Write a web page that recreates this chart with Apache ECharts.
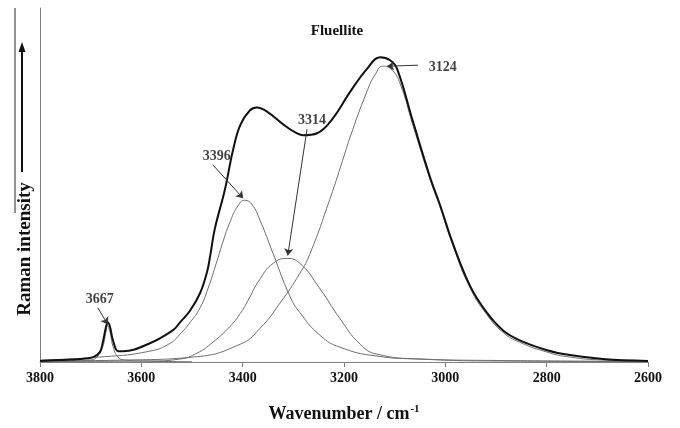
<!DOCTYPE html>
<html>
<head>
<meta charset="utf-8">
<script src="https://cdn.jsdelivr.net/npm/echarts@6/dist/echarts.min.js"></script>
<style>
  html, body { margin: 0; padding: 0; background: #fff; }
  #chart { width: 680px; height: 428px; }
</style>
</head>
<body>
<div id="chart"></div>
<script>
// intensity in arbitrary units
const totalWn = [3800, 3761, 3721, 3695, 3682, 3676, 3670, 3666, 3662, 3656, 3646, 3636, 3583, 3538, 3524, 3504, 3484, 3470, 3464, 3455, 3435, 3419, 3405, 3386, 3372, 3352, 3320, 3297, 3281, 3253, 3222, 3188, 3155, 3129, 3109, 3095, 3064, 3030, 3011, 2985, 2951, 2918, 2886, 2853, 2799, 2754, 2689, 2600]
const totalInt = [1, 2, 3, 5, 10, 20, 35, 40, 36, 22, 11, 11, 19, 32, 40, 52, 70, 92, 108, 135, 175, 215, 240, 255, 258, 254, 241, 233, 230, 232, 247, 274, 297, 309, 306, 297, 244, 187, 160, 120, 77, 50, 32, 22, 12, 7, 3, 1]

const wn3667 = [3800, 3740, 3701, 3686, 3676, 3670, 3667, 3662, 3656, 3646, 3632, 3600, 3500]
const int3667 = [0.3, 1, 2, 6, 16, 30, 37, 31, 16, 5, 2, 1, 0.3]

const wn3396 = [3800, 3682, 3583, 3543, 3524, 3504, 3484, 3468, 3451, 3435, 3425, 3411, 3396, 3382, 3366, 3340, 3307, 3287, 3247, 3208, 3135, 3050, 2892, 2600]
const int3396 = [2, 5, 11, 19, 28, 40, 55, 75, 102, 128, 142, 157, 164, 160, 144, 110, 67, 50, 27, 15, 6, 3, 1.5, 0.5]

const wn3314 = [3800, 3583, 3524, 3490, 3459, 3425, 3405, 3391, 3366, 3340, 3313, 3287, 3247, 3208, 3168, 3135, 3050, 2892, 2600]
const int3314 = [0.5, 1, 3, 9, 20, 36, 49, 61, 84, 100, 105, 100, 74, 44, 18, 8, 3, 1, 0.5]

const wn3124 = [3800, 3628, 3498, 3405, 3366, 3326, 3287, 3267, 3228, 3198, 3188, 3155, 3139, 3123, 3105, 3089, 3064, 3030, 3011, 2985, 2951, 2918, 2886, 2853, 2799, 2754, 2689, 2600]
const int3124 = [1, 2, 5, 18, 34, 60, 90, 110, 165, 212, 228, 274, 291, 300, 296, 282, 240, 185, 158, 118, 75, 48, 30, 20, 10, 5, 2, 1]

const xTicks = [3800, 3600, 3400, 3200, 3000, 2800, 2600]

// peak labels and their arrows
const annoText = ['3667', '3396', '3314', '3124']
const annoLabelAt = [[3682, 64], [3451, 209], [3263, 245], [3005, 299]]
const annoFrom = [[3686, 55], [3459, 200], [3273, 236], [3054, 301]]
const annoTo = [[3666, 38], [3399, 166], [3311, 108], [3115, 300]]

const zip = (xs, ys) => xs.map((x, i) => [x, ys[i]])
const serif = '"Liberation Serif", "DejaVu Serif", serif'

const bandLine = (name, xs, ys) => ({
  name: name,
  type: 'line',
  data: zip(xs, ys),
  showSymbol: false,
  smooth: 0.5,
  silent: true,
  lineStyle: { color: '#6e6e6e', width: 1 },
  z: 2
})

const chart = echarts.init(document.getElementById('chart'))

const option = {
  animation: false,
  backgroundColor: '#fff',
  title: {
    text: 'Fluellite',
    left: 332,
    top: 19,
    textAlign: 'center',
    textStyle: { fontFamily: serif, fontWeight: 'bold', fontSize: 15, color: '#111' }
  },
  grid: { left: 40, right: 32, top: 8, bottom: 61 },
  xAxis: {
    type: 'value',
    inverse: true,
    min: 2600,
    max: 3800,
    interval: 200,
    name: '{a|Wavenumber / cm}{s|-1}',
    nameLocation: 'middle',
    nameGap: 42,
    nameTextStyle: {
      rich: {
        a: { fontFamily: serif, fontWeight: 'bold', fontSize: 18, color: '#111' },
        s: { fontFamily: serif, fontWeight: 'bold', fontSize: 11, color: '#111', verticalAlign: 'bottom', padding: [0, 0, 9, 1] }
      }
    },
    axisLine: { lineStyle: { color: '#808080', width: 1 } },
    axisTick: { show: true, length: 5, lineStyle: { color: '#808080' } },
    axisLabel: {
      margin: 9,
      fontFamily: serif,
      fontWeight: 'bold',
      fontSize: 14,
      color: '#111',
      formatter: (v) => (xTicks.includes(v) ? String(v) : '')
    },
    splitLine: { show: false }
  },
  yAxis: {
    type: 'value',
    min: 0,
    max: 359,
    axisLine: { show: true, lineStyle: { color: '#808080', width: 1 } },
    axisTick: { show: false },
    axisLabel: { show: false },
    splitLine: { show: false }
  },
  graphic: [
    {
      type: 'line',
      shape: { x1: 15, y1: 8, x2: 15, y2: 213 },
      style: { stroke: '#222', lineWidth: 1 }
    },
    {
      type: 'line',
      shape: { x1: 22, y1: 172, x2: 22, y2: 50 },
      style: { stroke: '#111', lineWidth: 2 }
    },
    {
      type: 'polygon',
      shape: { points: [[22, 42], [18.5, 52], [25.5, 52]] },
      style: { fill: '#111' }
    },
    {
      type: 'text',
      x: 25,
      y: 249,
      rotation: Math.PI / 2,
      style: {
        text: 'Raman intensity',
        font: 'bold 19px ' + serif,
        fill: '#111',
        align: 'center',
        verticalAlign: 'middle'
      }
    }
  ],
  series: [
    bandLine('3667', wn3667, int3667),
    bandLine('3396', wn3396, int3396),
    bandLine('3314', wn3314, int3314),
    bandLine('3124', wn3124, int3124),
    {
      name: 'spectrum',
      type: 'line',
      data: zip(totalWn, totalInt),
      showSymbol: false,
      smooth: 0.4,
      silent: true,
      lineStyle: { color: '#111', width: 2 },
      z: 3
    },
    {
      name: 'labels',
      type: 'scatter',
      symbolSize: 0,
      silent: true,
      data: annoLabelAt.map((p, i) => ({ value: p, name: annoText[i] })),
      label: {
        show: true,
        position: 'inside',
        formatter: '{b}',
        fontFamily: serif,
        fontWeight: 'bold',
        fontSize: 14,
        color: '#111'
      },
      markLine: {
        silent: true,
        symbol: ['none', 'arrow'],
        symbolSize: 7,
        label: { show: false },
        lineStyle: { color: '#333', width: 1, type: 'solid' },
        data: annoFrom.map((p, i) => [{ coord: p }, { coord: annoTo[i] }])
      },
      z: 5
    }
  ]
}

chart.setOption(option)
</script>
</body>
</html>
